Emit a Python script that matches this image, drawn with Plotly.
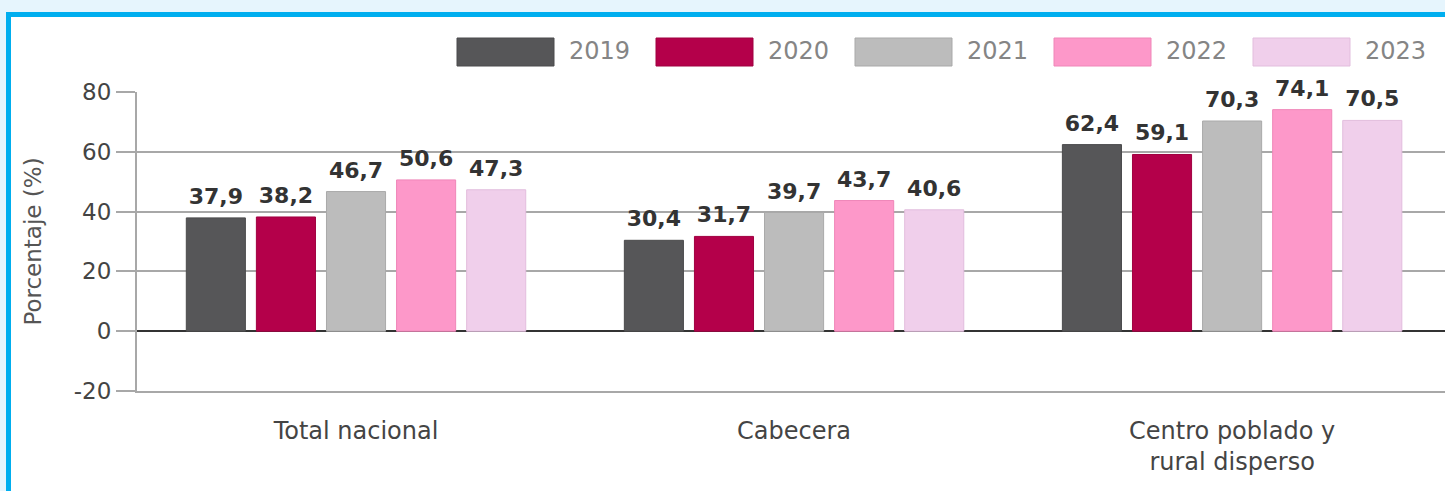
import plotly.graph_objects as go

categories = ["Total nacional", "Cabecera", "Centro poblado y<br>rural disperso"]
years = ["2019", "2020", "2021", "2022", "2023"]
values_2019 = [37.9, 30.4, 62.4]
values_2020 = [38.2, 31.7, 59.1]
values_2021 = [46.7, 39.7, 70.3]
values_2022 = [50.6, 43.7, 74.1]
values_2023 = [47.3, 40.6, 70.5]
series_values = [values_2019, values_2020, values_2021, values_2022, values_2023]
colors = ["#565658", "#b4004a", "#bcbcbc", "#fd98c9", "#f0cfeb"]
line_colors = ["#4a4a4c", "#a00040", "#a9a9a9", "#ef86b8", "#e2bddd"]
y_tick_values = [-20, 0, 20, 40, 60, 80]
y_tick_labels = ["-20", "0", "20", "40", "60", "80"]

W, H = 1445, 491
ML, MR, MT, MB = 137, 0, 92, 100
PW, PH = W - ML - MR, H - MT - MB


def px_x(p):
    return (p - ML) / PW


def px_y(p):
    return (H - MB - p) / PH


FONT = "DejaVu Sans, Verdana, sans-serif"

fig = go.Figure()
for name, vals, c, lc in zip(years, series_values, colors, line_colors):
    fig.add_trace(go.Bar(
        name=name, x=categories, y=vals,
        marker=dict(color=c, line=dict(color=lc, width=1)),
        showlegend=False, hoverinfo="x+y+name",
    ))
# value labels, aligned with grouped bars
for name, vals in zip(years, series_values):
    fig.add_trace(go.Scatter(
        name=name, x=categories, y=vals, mode="markers+text",
        marker=dict(size=12, opacity=0),
        texttemplate="%{y:.1f}", textposition="top center",
        textfont=dict(family=FONT, size=22, color="#333333", weight="bold"),
        cliponaxis=False, showlegend=False, hoverinfo="skip",
    ))

shapes = []
annotations = []
# page frame (white card with cyan border)
shapes.append(dict(type="rect", xref="paper", yref="paper", layer="below",
                   x0=px_x(8.5), x1=px_x(1470), y0=px_y(14.5), y1=px_y(520),
                   fillcolor="white", line=dict(color="#00aeef", width=5)))

# custom legend
leg_x0 = 457
leg_step = 199
for i, (name, c, lc) in enumerate(zip(years, colors, line_colors)):
    x0 = leg_x0 + i * leg_step
    shapes.append(dict(type="rect", xref="paper", yref="paper",
                       x0=px_x(x0), x1=px_x(x0 + 97), y0=px_y(38), y1=px_y(66),
                       fillcolor=c, line=dict(color=lc, width=1)))
    annotations.append(dict(xref="paper", yref="paper", x=px_x(x0 + 110), y=px_y(51),
                            xanchor="left", yanchor="middle", showarrow=False,
                            text=name, font=dict(family=FONT, size=24, color="#858585")))

fig.update_layout(
    width=W, height=H,
    margin=dict(l=ML, r=MR, t=MT, b=MB, autoexpand=False),
    paper_bgcolor="#e6f5fd", plot_bgcolor="rgba(0,0,0,0)",
    barmode="group", bargap=0.2, bargroupgap=0.157,
    scattermode="group", scattergap=0.2,
    separators=",.",
    shapes=shapes, annotations=annotations,
    font=dict(family=FONT, color="#444444"),
    xaxis=dict(range=[-0.5, 2.486], showline=True, linecolor="#a8a8a8", linewidth=1.5,
               ticks="", showgrid=False,
               tickfont=dict(family=FONT, size=24, color="#444444"),
               ticklabelstandoff=17),
    yaxis=dict(range=[-20, 80], tickvals=y_tick_values, ticktext=y_tick_labels,
               showgrid=True, gridcolor="#a8a8a8", gridwidth=1.5,
               zeroline=True, zerolinecolor="#333333", zerolinewidth=2,
               showline=True, linecolor="#a8a8a8", linewidth=2,
               ticks="outside", ticklen=19, tickcolor="#a8a8a8", tickwidth=1.5,
               tickfont=dict(family=FONT, size=23, color="#444444"),
               title=dict(text="Porcentaje (%)", standoff=26,
                          font=dict(family=FONT, size=23, color="#555555"))),
)

fig.write_html(
    "out.html",
    config={"displayModeBar": False},
    post_script="document.body.style.margin='0';document.body.style.overflow='hidden';"
                "document.body.style.background='#e6f5fd';",
)
